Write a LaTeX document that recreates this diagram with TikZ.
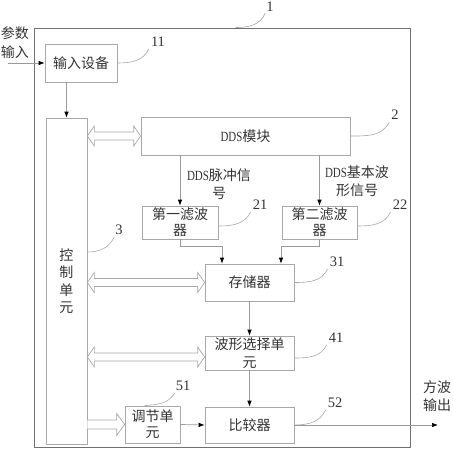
\documentclass[tikz,border=0pt]{standalone}
\usepackage{fontspec}
\setmainfont{Liberation Serif}
\newfontfamily\cjk{Noto Sans CJK SC}
\newfontfamily\ddsf[FakeStretch=0.78]{Liberation Serif}
\usetikzlibrary{arrows.meta,calc}
\definecolor{boxgray}{HTML}{A8A8A8}
\definecolor{linegray}{HTML}{9A9A9A}
\definecolor{framegray}{HTML}{707070}
\definecolor{txt}{HTML}{333333}
\newcommand\DDS{{\ddsf DDS}}
\newcommand\hdbl[2]{\draw[hollow] (#1) -- ++(7,10) -- ++(0,-6) -- ($(#2)+(-7,4)$) -- ++(0,6) -- (#2) -- ++(-7,-10) -- ++(0,6) -- ($(#1)+(7,-4)$) -- ++(0,-6) -- cycle;}
\newcommand\hsgl[2]{\draw[hollow] ($(#1)+(0,4.5)$) -- ($(#2)+(-8,4.5)$) -- ++(0,6.5) -- (#2) -- ++(-8,-11) -- ++(0,6.5) -- ($(#1)+(0,-4.5)$);}
\tikzset{
  box/.style={draw=boxgray, line width=0.7pt, inner sep=0pt, text=txt,
    font=\cjk\fontsize{14}{16}\selectfont, align=center},
  lbl/.style={inner sep=0pt, text=txt, font=\cjk\fontsize{14}{18}\selectfont, align=center},
  num/.style={inner sep=0pt, text=txt, font=\fontsize{14.5}{14.5}\selectfont},
  lead/.style={draw=boxgray, line width=0.6pt},
  conn/.style={draw=linegray, line width=0.7pt, -{Latex[length=6pt,width=4.5pt,color=black]}},
  hollow/.style={draw=boxgray, line width=0.7pt, fill=white}
}
\begin{document}
\begin{tikzpicture}[x=1pt,y=-1pt]
\useasboundingbox (0,0) rectangle (453,450);
% frame
\node[draw=framegray, line width=0.9pt, minimum width=376pt, minimum height=419pt, inner sep=0pt] (sys) at (222,237.5) {};
% boxes
\node[box, minimum width=72pt, minimum height=38pt] (inp) at (81,63) {输入设备};
\node[box, minimum width=41pt, minimum height=326pt, font=\cjk\fontsize{14}{17.5}\selectfont] (ctrl) at (66.5,281) {控\\制\\单\\元};
\node[box, minimum width=209pt, minimum height=38pt] (dds) at (245.5,136) {\DDS 模块};
\node[box, minimum width=76pt, minimum height=33pt] (f1) at (180,222.5) {第一滤波\\器};
\node[box, minimum width=75pt, minimum height=33pt] (f2) at (319.5,222.5) {第二滤波\\器};
\node[box, minimum width=89pt, minimum height=37pt] (mem) at (249.5,282.5) {存储器};
\node[box, minimum width=89pt, minimum height=34pt, font=\cjk\fontsize{14}{18}\selectfont] (sel) at (249.5,353) {波形选择单\\元};
\node[box, minimum width=89pt, minimum height=36pt] (cmp) at (249.5,425) {比较器};
\node[box, minimum width=55pt, minimum height=37pt] (adj) at (152.5,424.5) {调节单\\元};
% texts
\node[lbl, font=\cjk\fontsize{14}{19}\selectfont] (pin) at (15,42.5) {参数\\输入};
\node[lbl] (pout) at (437,396) {方波\\输出};
\node[lbl] (s1) at (219,184) {\DDS 脉冲信\\号};
\node[lbl] (s2) at (357,181.5) {\DDS 基本波\\形信号};
% numbers
\node[num] (l1) at (270,7) {1};
\node[num] (l11) at (158,42) {11};
\node[num] (l2) at (395,115) {2};
\node[num] (l21) at (260,205) {21};
\node[num] (l22) at (400,205) {22};
\node[num] (l3) at (119,230) {3};
\node[num] (l31) at (337,262) {31};
\node[num] (l41) at (336,338) {41};
\node[num] (l51) at (183,386) {51};
\node[num] (l52) at (335,403) {52};
% leaders
\draw[lead] ($(sys.north west)+(202,0)$) to[out=0,in=-110] ($(l1.south west)+(-1,1)$);
\draw[lead] (inp.east) to[out=0,in=-115] ($(l11.south west)+(-2,2)$);
\draw[lead] (dds.east) to[out=0,in=-115] ($(l2.south west)+(-2,2)$);
\draw[lead] ($(f1.east)+(0,3.5)$) to[out=0,in=-115] ($(l21.south west)+(-2,2)$);
\draw[lead] ($(f2.east)+(0,3.5)$) to[out=0,in=-115] ($(l22.south west)+(-2,2)$);
\draw[lead] ($(ctrl.east)+(0,-29)$) to[out=0,in=-115] ($(l3.south west)+(-1,2)$);
\draw[lead] (mem.east) to[out=0,in=-115] ($(l31.south west)+(-2,2)$);
\draw[lead] ($(sel.east)+(0,5)$) to[out=0,in=-115] ($(l41.south west)+(-2,2)$);
\draw[lead] ($(adj.north)+(-8,0)$) to[out=5,in=-120] ($(l51.south west)+(-1,2)$);
\draw[lead] (cmp.east) to[out=0,in=-115] ($(l52.south west)+(-2,2)$);
% connectors
\coordinate (src) at (8,63);
\coordinate (dst) at (438,425);
\draw[conn] (src) -- (inp.west);
\draw[conn] (inp.south -| ctrl.north) -- (ctrl.north);
\draw[conn] (f1.north |- dds.south) -- (f1.north);
\draw[conn] (f2.north |- dds.south) -- (f2.north);
\draw[conn] (f1.south) -- ++(0,6.5) -| ($(mem.north)+(-27.5,0)$);
\draw[conn] (f2.south) -- ++(0,6.5) -| ($(mem.north)+(31.5,0)$);
\draw[conn] (mem.south) -- (sel.north);
\draw[conn] (sel.south) -- (cmp.north);
\draw[conn] (adj.east) -- (cmp.west);
\draw[conn] (cmp.east) -- (dst);
% hollow arrows
\hdbl{ctrl.east |- dds.west}{dds.west}
\hdbl{ctrl.east |- mem.west}{mem.west}
\coordinate (selw) at ($(sel.west)+(0,4)$);
\hdbl{ctrl.east |- selw}{selw}
\hsgl{ctrl.east |- adj.west}{adj.west}
\end{tikzpicture}
\end{document}
